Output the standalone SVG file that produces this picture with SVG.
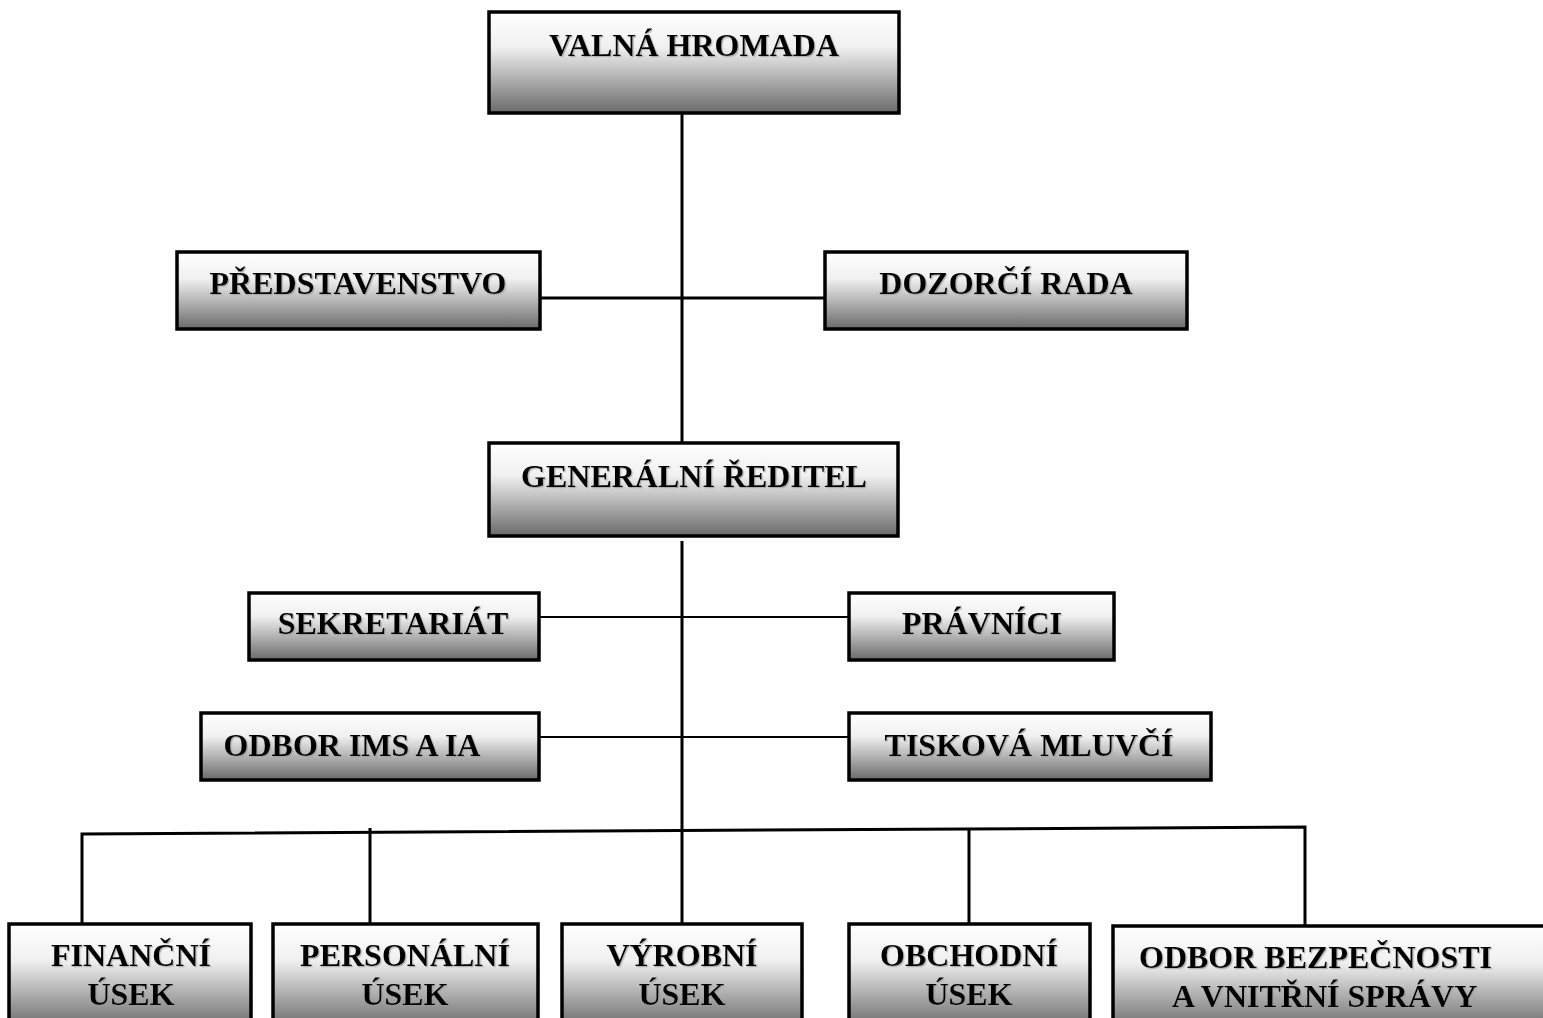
<svg xmlns="http://www.w3.org/2000/svg" width="1543" height="1018" viewBox="0 0 1543 1018">
  <defs>
    <linearGradient id="g" x1="0" y1="0" x2="0" y2="1">
      <stop offset="0" stop-color="#ffffff"/>
      <stop offset="0.35" stop-color="#f0f0f0"/>
      <stop offset="1" stop-color="#6a6a6a"/>
    </linearGradient>
    <filter id="sh" x="-5%" y="-20%" width="110%" height="140%">
      <feDropShadow dx="1.2" dy="1.2" stdDeviation="0.5" flood-color="#999999" flood-opacity="0.7"/>
    </filter>
  </defs>
  <style>
    .box { fill: url(#g); stroke: #000; stroke-width: 3.5; }
    .t { font-family: "Liberation Serif", "Times New Roman", serif; font-weight: bold; font-size: 32px; fill: #000; text-anchor: middle; filter: url(#sh); }
    .ts { text-anchor: start; }
    .c { stroke: #000; stroke-width: 3; fill: none; }
    .c2 { stroke: #000; stroke-width: 2; fill: none; }
  </style>
  <rect width="1543" height="1018" fill="#fff"/>

  <g id="connectors">
    <line class="c" x1="682" y1="107" x2="682" y2="445"/>
    <line class="c" x1="540" y1="298" x2="825" y2="298"/>
    <line class="c" x1="682" y1="541" x2="682" y2="925"/>
    <line class="c2" x1="539" y1="617" x2="849" y2="617"/>
    <line class="c2" x1="539" y1="737" x2="849" y2="737"/>
    <polyline class="c" points="82,925 82,834 1305,827 1305,926"/>
    <line class="c" x1="370" y1="828" x2="370" y2="925"/>
    <line class="c" x1="969" y1="829" x2="969" y2="925"/>
  </g>

  <g id="valna-hromada">
    <rect class="box" x="489" y="12" width="410" height="101"/>
    <text class="t" x="694" y="56">VALNÁ HROMADA</text>
  </g>
  <g id="predstavenstvo">
    <rect class="box" x="177" y="252" width="363" height="77"/>
    <text class="t" x="358" y="294">PŘEDSTAVENSTVO</text>
  </g>
  <g id="dozorci-rada">
    <rect class="box" x="825" y="252" width="362" height="77"/>
    <text class="t" x="1006" y="294">DOZORČÍ RADA</text>
  </g>
  <g id="generalni-reditel">
    <rect class="box" x="489" y="443" width="409" height="93"/>
    <text class="t" x="694" y="487">GENERÁLNÍ ŘEDITEL</text>
  </g>
  <g id="sekretariat">
    <rect class="box" x="249" y="593" width="290" height="67"/>
    <text class="t" x="393" y="634">SEKRETARIÁT</text>
  </g>
  <g id="pravnici">
    <rect class="box" x="849" y="593" width="265" height="67"/>
    <text class="t" x="982" y="634">PRÁVNÍCI</text>
  </g>
  <g id="odbor-ims">
    <rect class="box" x="201" y="713" width="338" height="67"/>
    <text class="t" x="352" y="756">ODBOR IMS A IA</text>
  </g>
  <g id="tiskova-mluvci">
    <rect class="box" x="849" y="713" width="362" height="67"/>
    <text class="t" x="1029" y="756">TISKOVÁ MLUVČÍ</text>
  </g>
  <g id="financni-usek">
    <rect class="box" x="9" y="924" width="242" height="104"/>
    <text class="t" x="131" y="966">FINANČNÍ</text>
    <text class="t" x="131" y="1005">ÚSEK</text>
  </g>
  <g id="personalni-usek">
    <rect class="box" x="273" y="924" width="265" height="104"/>
    <text class="t" x="405" y="966">PERSONÁLNÍ</text>
    <text class="t" x="405" y="1005">ÚSEK</text>
  </g>
  <g id="vyrobni-usek">
    <rect class="box" x="562" y="924" width="240" height="104"/>
    <text class="t" x="682" y="966">VÝROBNÍ</text>
    <text class="t" x="682" y="1005">ÚSEK</text>
  </g>
  <g id="obchodni-usek">
    <rect class="box" x="849" y="924" width="241" height="104"/>
    <text class="t" x="969" y="966">OBCHODNÍ</text>
    <text class="t" x="969" y="1005">ÚSEK</text>
  </g>
  <g id="odbor-bezpecnosti">
    <rect class="box" x="1113" y="926" width="460" height="104"/>
    <text class="t ts" x="1139" y="968">ODBOR BEZPEČNOSTI</text>
    <text class="t ts" x="1172" y="1007">A VNITŘNÍ SPRÁVY</text>
  </g>
</svg>
